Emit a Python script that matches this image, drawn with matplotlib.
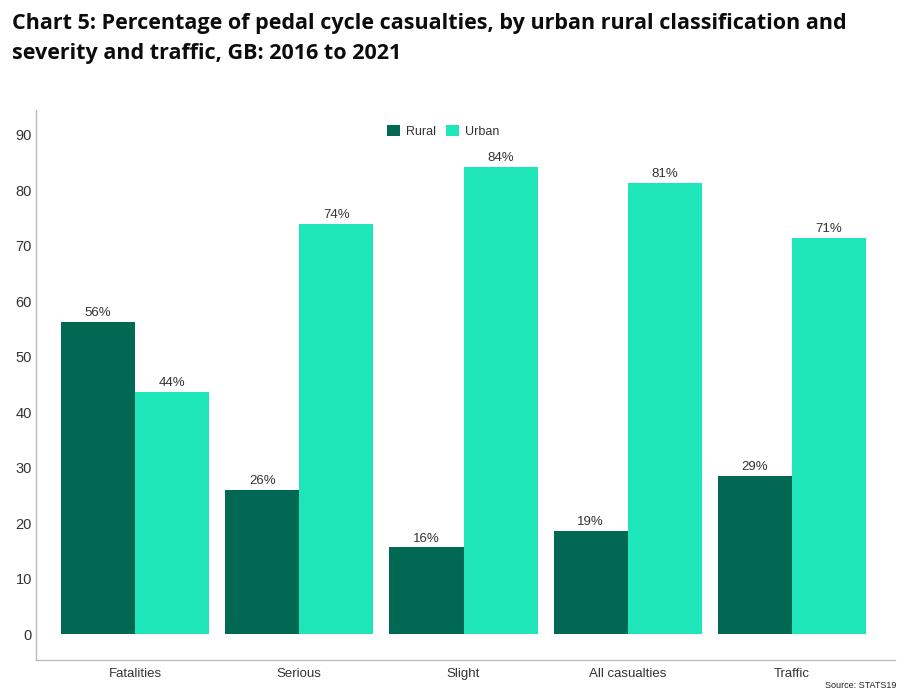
import numpy as np
import matplotlib.pyplot as plt

plt.rcParams['font.family'] = ['Liberation Sans', 'DejaVu Sans']

# data
categories = ['Fatalities', 'Serious', 'Slight', 'All casualties', 'Traffic']
rural = [56.3, 26.0, 15.7, 18.6, 28.6]
urban = [43.7, 74.0, 84.3, 81.4, 71.4]
yticks = [0, 10, 20, 30, 40, 50, 60, 70, 80, 90]

rural_col = '#006853'
urban_col = '#1fe6b8'
text_col = '#333333'

fig = plt.figure(figsize=(9.17, 6.96), dpi=100)
ax = fig.add_axes([0.0393, 0.0517, 0.937, 0.7903])

x = np.arange(len(categories))
w = 0.451
b1 = ax.bar(x - w / 2, rural, w, color=rural_col, label='Rural')
b2 = ax.bar(x + w / 2, urban, w, color=urban_col, label='Urban')

for bars, vals in [(b1, rural), (b2, urban)]:
    for bar, v in zip(bars, vals):
        ax.text(bar.get_x() + bar.get_width() / 2, v + 0.5, f'{round(v)}%',
                ha='center', va='bottom', fontsize=9.5, color=text_col)

ax.set_xlim(-0.604, 4.63)
ax.set_ylim(-4.6, 94.5)
ax.set_yticks(yticks)
ax.set_xticks(x)
ax.set_xticklabels(categories)
ax.tick_params(length=0, labelsize=9.5, labelcolor=text_col)
ax.tick_params(axis='y', pad=3, labelsize=10.5)
ax.tick_params(axis='x', pad=6)
for s in ['top', 'right']:
    ax.spines[s].set_visible(False)
for s in ['left', 'bottom']:
    ax.spines[s].set_color('#bbbbbb')
    ax.spines[s].set_linewidth(1)

ax.legend(loc='upper center', bbox_to_anchor=(0.474, 0.993), ncol=2, frameon=False,
          fontsize=9, handlelength=1.0, handleheight=1.0, handletextpad=0.5,
          columnspacing=0.8, labelcolor=text_col)

fig.text(0.013, 0.982, 'Chart 5: Percentage of pedal cycle casualties, by urban rural classification and\n'
         'severity and traffic, GB: 2016 to 2021',
         ha='left', va='top', fontsize=15.5, fontweight='bold', color='#0b0c0c',
         family=['Open Sans', 'DejaVu Sans'], linespacing=1.6)

fig.text(0.977, 0.008, 'Source: STATS19', ha='right', va='bottom', fontsize=6.5, color='#222222')

fig.savefig('out.png', dpi=100, facecolor='white')
